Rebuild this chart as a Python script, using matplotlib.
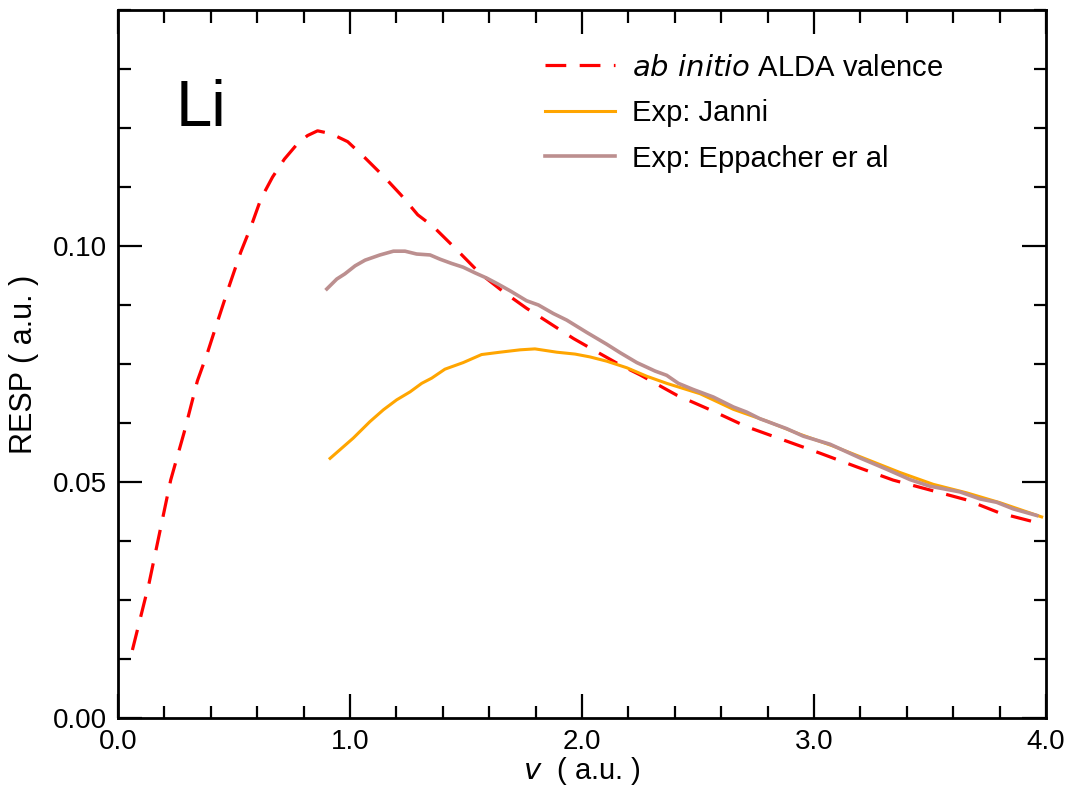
import matplotlib
matplotlib.use("Agg")
import matplotlib.pyplot as plt
from matplotlib.ticker import MultipleLocator

plt.rcParams["font.family"] = ["Liberation Sans", "DejaVu Sans"]

# ab initio ALDA valence stopping (velocity, RESP)
alda_v = [0.062, 0.134, 0.177, 0.227, 0.285, 0.342, 0.385, 0.429, 0.479, 0.529,
          0.573, 0.616, 0.666, 0.717, 0.774, 0.817, 0.860, 0.918, 0.990, 1.062,
          1.148, 1.220, 1.292, 1.359, 1.460, 1.560, 1.661, 1.761, 1.862, 1.963,
          2.063, 2.164, 2.250, 2.408, 2.552, 2.710, 2.868, 3.026, 3.184, 3.341,
          3.500, 3.658, 3.802, 3.960]
alda_s = [0.0144, 0.0286, 0.0387, 0.0504, 0.0605, 0.0714, 0.0773, 0.0840, 0.0915, 0.0987,
          0.1041, 0.1100, 0.1146, 0.1184, 0.1217, 0.1234, 0.1244, 0.1238, 0.1221, 0.1188,
          0.1146, 0.1108, 0.1066, 0.1041, 0.0992, 0.0942, 0.0903, 0.0868, 0.0836, 0.0804,
          0.0776, 0.0748, 0.0727, 0.0684, 0.0653, 0.0617, 0.0589, 0.0561, 0.0532, 0.0504,
          0.0483, 0.0462, 0.0434, 0.0414]

# Janni
janni_v = [0.914, 1.014, 1.086, 1.144, 1.201, 1.259, 1.309, 1.352, 1.409, 1.488,
           1.567, 1.647, 1.733, 1.797, 1.891, 1.970, 2.034, 2.106, 2.193, 2.279,
           2.365, 2.509, 2.652, 2.796, 2.940, 3.083, 3.227, 3.371, 3.514, 3.658,
           3.802, 3.981]
janni_s = [0.0550, 0.0593, 0.0628, 0.0653, 0.0674, 0.0691, 0.0709, 0.0720, 0.0739, 0.0753,
           0.0770, 0.0775, 0.0780, 0.0782, 0.0775, 0.0771, 0.0765, 0.0756, 0.0742, 0.0724,
           0.0709, 0.0687, 0.0654, 0.0629, 0.0601, 0.0576, 0.0548, 0.0520, 0.0495, 0.0477,
           0.0456, 0.0426]

# Eppacher et al
epp_v = [0.900, 0.943, 0.978, 1.022, 1.065, 1.129, 1.187, 1.237, 1.287, 1.345,
         1.388, 1.438, 1.488, 1.539, 1.589, 1.639, 1.690, 1.761, 1.812, 1.876,
         1.934, 2.020, 2.106, 2.164, 2.236, 2.315, 2.365, 2.415, 2.479, 2.566,
         2.652, 2.710, 2.767, 2.882, 2.954, 3.069, 3.198, 3.313, 3.414, 3.500,
         3.629, 3.716, 3.787, 3.859, 3.960]
epp_s = [0.0909, 0.0930, 0.0941, 0.0958, 0.0970, 0.0981, 0.0989, 0.0989, 0.0983, 0.0981,
         0.0972, 0.0963, 0.0955, 0.0943, 0.0932, 0.0919, 0.0905, 0.0884, 0.0875, 0.0857,
         0.0843, 0.0817, 0.0792, 0.0774, 0.0753, 0.0735, 0.0726, 0.0709, 0.0696, 0.0680,
         0.0659, 0.0648, 0.0634, 0.0613, 0.0597, 0.0580, 0.0551, 0.0527, 0.0505, 0.0491,
         0.0479, 0.0464, 0.0457, 0.0443, 0.0429]

xticks = [0, 1, 2, 3, 4]
xticklabels = ["0.0", "1.0", "2.0", "3.0", "4.0"]
yticks = [0.0, 0.05, 0.10]
yticklabels = ["0.00", "0.05", "0.10"]

fig = plt.figure(figsize=(10.7, 7.87), dpi=100)
ax = fig.add_axes([0.1103, 0.0877, 0.8673, 0.8996])

ax.plot(alda_v, alda_s, color="red", lw=2.3, dashes=(6.5, 4.2),
        label=r"$\it{ab\ initio}$ ALDA valence")
ax.plot(janni_v, janni_s, color="orange", lw=2.2, label="Exp: Janni")
ax.plot(epp_v, epp_s, color="rosybrown", lw=2.6, label="Exp: Eppacher er al")

ax.set_xlim(0, 4)
ax.set_ylim(0, 0.15)
ax.set_xticks(xticks)
ax.set_xticklabels(xticklabels)
ax.set_yticks(yticks)
ax.set_yticklabels(yticklabels)
ax.xaxis.set_minor_locator(MultipleLocator(0.2))
ax.yaxis.set_minor_locator(MultipleLocator(0.0125))
ax.tick_params(which="both", direction="in", top=True, right=True,
               labelsize=20, width=1.6)
ax.tick_params(which="major", length=17, pad=8)
ax.tick_params(which="minor", length=9)
for sp in ax.spines.values():
    sp.set_linewidth(2)

ax.set_xlabel(r"$\it{v}$  ( a.u. )", fontsize=21, labelpad=0)
ax.set_ylabel("RESP ( a.u. )", fontsize=22, labelpad=10)

ax.text(0.25, 0.1255, "Li", fontsize=47)

leg = ax.legend(loc="upper left", bbox_to_anchor=(0.447, 0.955), frameon=False,
                fontsize=21, handlelength=2.4, handletextpad=0.6, labelspacing=0.6,
                borderaxespad=0)

fig.savefig("out.png", dpi=100)
